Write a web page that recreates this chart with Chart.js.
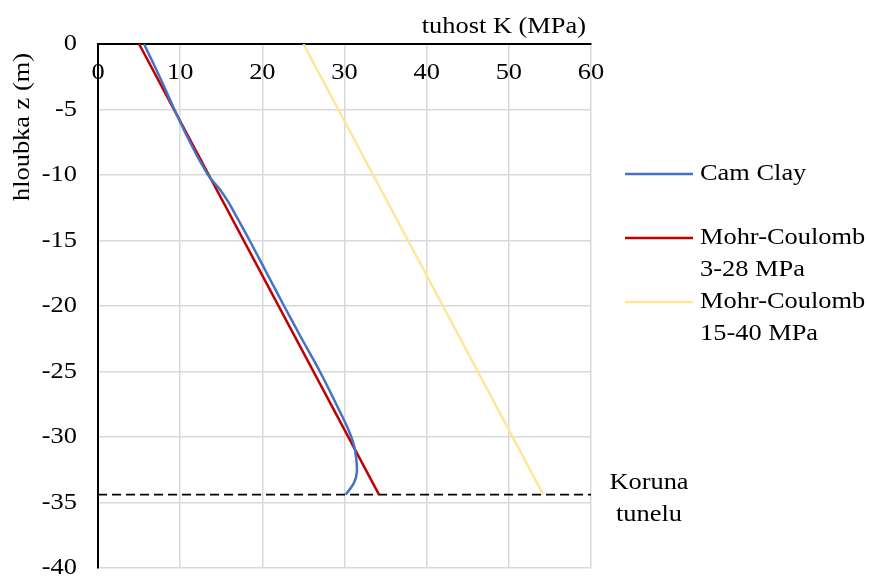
<!DOCTYPE html>
<html>
<head>
<meta charset="utf-8">
<script src="https://cdn.jsdelivr.net/npm/chart.js@4"></script>
<style>
    body { margin: 0; background: #fff; }
    #wrap { width: 869px; height: 577px; }
</style>
</head>
<body>
<div id="wrap"><canvas id="tuhost-chart"></canvas></div>
<script>
// data
const kTicks = [0, 10, 20, 30, 40, 50, 60];
const zTicks = [0, -5, -10, -15, -20, -25, -30, -35, -40];

// Cam Clay - tuhost K (MPa) a hloubka z (m)
const camClayK = [5.6, 7.5, 9.3, 11.2, 13.4, 14.7, 15.8, 16.7, 18.45, 20.55, 22.65, 24.8, 27.0, 29.0, 30.45, 31.1, 31.4, 31.5, 31.15, 30.15];
const camClayZ = [0, -2.5, -5, -7.5, -10, -11, -12, -13, -15, -17.5, -20, -22.5, -25, -27.5, -29.4, -30.5, -31.5, -32.7, -33.5, -34.4];

// Mohr-Coulomb 3-28 MPa
const mc1K = [5, 34.2];
const mc1Z = [0, -34.4];

// Mohr-Coulomb 15-40 MPa
const mc2K = [25, 54.2];
const mc2Z = [0, -34.4];

// koruna tunelu
const korunaK = [0, 60];
const korunaZ = -34.4;

const labels = ['Cam Clay', 'Mohr-Coulomb\n3-28 MPa', 'Mohr-Coulomb\n15-40 MPa'];
const colors = ['#4472C4', '#C00000', '#FFE699'];

function toPoints(xs, ys) {
    return xs.map((x, i) => ({ x: x, y: Array.isArray(ys) ? ys[i] : ys }));
}

const FONT = '24px "Liberation Serif", "Times New Roman", serif';
const WIDE = 1.1;

// text is a bit wider than normal in the original
function wideText(ctx, text, x, y, align, rot) {
    ctx.save();
    ctx.translate(x, y);
    if (rot) ctx.rotate(rot);
    ctx.scale(WIDE, 1);
    ctx.font = FONT;
    ctx.fillStyle = '#000';
    ctx.textAlign = align;
    ctx.textBaseline = 'middle';
    ctx.fillText(text, 0, 0);
    ctx.restore();
}

// popisky os, legenda a koruna
const textPlugin = {
    id: 'texts',
    afterDraw(chart) {
        const ctx = chart.ctx;
        const xs = chart.scales.x;
        const ys = chart.scales.y;
        const area = chart.chartArea;

        xs.ticks.forEach(t => wideText(ctx, String(t.value), xs.getPixelForValue(t.value), area.top + 29, 'center'));
        ys.ticks.forEach(t => wideText(ctx, String(t.value), area.left - 21, ys.getPixelForValue(t.value), 'right'));

        wideText(ctx, 'tuhost K (MPa)', area.right - 5, area.top - 17, 'right');
        wideText(ctx, 'hloubka z (m)', 23, 127, 'center', -Math.PI / 2);

        // legenda
        let i = 0;
        chart.data.datasets.forEach(ds => {
            if (ds.noLegend) return;
            const y = 174 + i * 64;
            ctx.save();
            ctx.strokeStyle = ds.borderColor;
            ctx.lineWidth = ds.borderWidth;
            ctx.beginPath();
            ctx.moveTo(625, y);
            ctx.lineTo(693, y);
            ctx.stroke();
            ctx.restore();
            ds.label.split('\n').forEach((line, j) => wideText(ctx, line, 700, y + j * 32, 'left'));
            i++;
        });

        const kz = ys.getPixelForValue(korunaZ);
        wideText(ctx, 'Koruna', 649, kz - 12, 'center');
        wideText(ctx, 'tunelu', 649, kz + 20, 'center');
    }
};

function renderChart() {
    const ctx = document.getElementById('tuhost-chart').getContext('2d');

    const datasets = labels.map((label, i) => ({
        label: label,
        data: [toPoints(camClayK, camClayZ), toPoints(mc1K, mc1Z), toPoints(mc2K, mc2Z)][i],
        borderColor: colors[i],
        backgroundColor: colors[i],
        borderWidth: 2.5,
        showLine: true,
        pointRadius: 0,
        tension: i === 0 ? 0.4 : 0
    }));

    datasets.push({
        label: 'Koruna tunelu',
        noLegend: true,
        data: toPoints(korunaK, korunaZ),
        borderColor: '#000',
        borderWidth: 1.6,
        borderDash: [9, 5],
        showLine: true,
        pointRadius: 0
    });

    new Chart(ctx, {
        type: 'scatter',
        data: { datasets: datasets },
        options: {
            responsive: true,
            maintainAspectRatio: false,
            animation: false,
            layout: {
                padding: { top: 44, right: 278, bottom: 9, left: 0 }
            },
            scales: {
                x: {
                    position: 'top',
                    min: 0,
                    max: 60,
                    ticks: { display: false, stepSize: 10 },
                    grid: { color: '#D9D9D9', lineWidth: 1.5, drawTicks: false },
                    border: { color: '#000', width: 2 },
                    afterFit: scale => { scale.height = 0; }
                },
                y: {
                    min: -40,
                    max: 0,
                    ticks: { display: false, stepSize: 5 },
                    grid: { color: '#D9D9D9', lineWidth: 1.5, drawTicks: false },
                    border: { color: '#000', width: 2 },
                    afterFit: scale => { scale.width = 98; }
                }
            },
            plugins: {
                legend: { display: false },
                tooltip: { enabled: false }
            }
        },
        plugins: [textPlugin]
    });
}

renderChart();
</script>
</body>
</html>
